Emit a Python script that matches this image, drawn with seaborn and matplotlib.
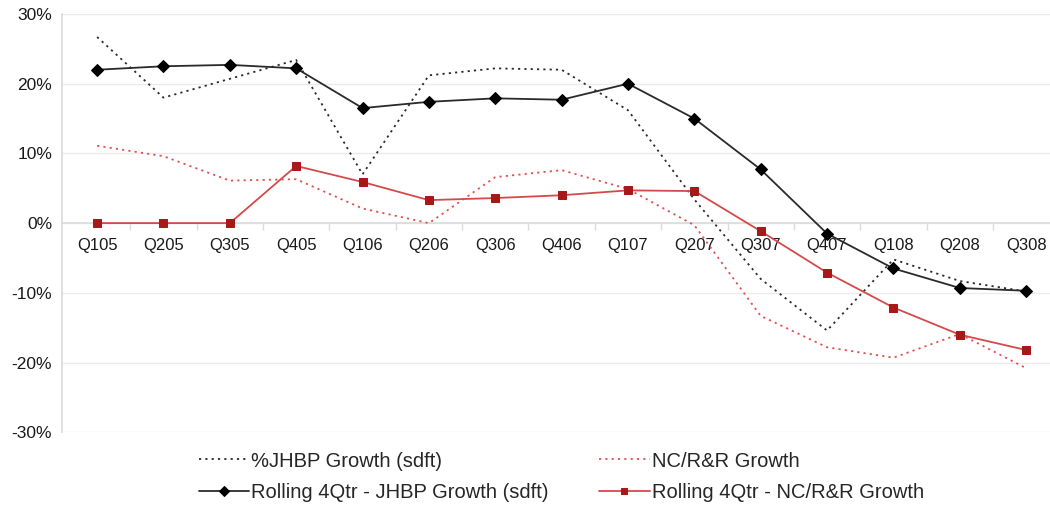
import matplotlib
matplotlib.use("Agg")
import matplotlib.pyplot as plt
from matplotlib.ticker import FuncFormatter, FixedLocator
import seaborn as sns
import pandas as pd
import numpy as np

quarters = ["Q105", "Q205", "Q305", "Q405", "Q106", "Q206", "Q306", "Q406",
            "Q107", "Q207", "Q307", "Q407", "Q108", "Q208", "Q308"]

jhbp_growth = [26.7, 18.0, 20.7, 23.4, 7.0, 21.2, 22.2, 22.0,
               16.2, 3.4, -8.0, -15.4, -5.2, -8.3, -9.8]
ncrr_growth = [11.1, 9.6, 6.1, 6.3, 2.1, 0.0, 6.6, 7.6,
               4.9, -0.3, -13.3, -17.8, -19.3, -15.9, -20.8]
rolling_jhbp = [22.0, 22.5, 22.7, 22.2, 16.5, 17.4, 17.9, 17.7,
                20.0, 15.0, 7.7, -1.5, -6.5, -9.3, -9.7]
rolling_ncrr = [0.0, 0.0, 0.0, 8.2, 5.9, 3.3, 3.6, 4.0,
                4.7, 4.6, -1.15, -7.1, -12.1, -16.0, -18.2]

labels = ["%JHBP Growth (sdft)", "NC/R&R Growth",
          "Rolling 4Qtr - JHBP Growth (sdft)", "Rolling 4Qtr - NC/R&R Growth"]

sns.set_theme(style="white")
plt.rcParams["font.family"] = ["Liberation Sans", "DejaVu Sans"]

fig = plt.figure(figsize=(10.5, 5.08), dpi=100)
ax = fig.add_axes([0.059, 0.149, 0.941, 0.8235])

x = np.arange(len(quarters))
df = pd.DataFrame({"pos": x, "jhbp": jhbp_growth, "ncrr": ncrr_growth,
                   "rjhbp": rolling_jhbp, "rncrr": rolling_ncrr})

dots = (0, (1.2, 2.3))
sns.lineplot(data=df, x="pos", y="jhbp", ax=ax, color="#2a2a2a", lw=1.3,
             linestyle=dots, label=labels[0], zorder=3)
sns.lineplot(data=df, x="pos", y="ncrr", ax=ax, color="#e25050", lw=1.3,
             linestyle=dots, label=labels[1], zorder=3)
sns.lineplot(data=df, x="pos", y="rjhbp", ax=ax, color="#2a2a2a", lw=1.3,
             marker="D", markersize=6.5, markerfacecolor="black",
             markeredgecolor="black", label=labels[2], zorder=4)
sns.lineplot(data=df, x="pos", y="rncrr", ax=ax, color="#d44a4a", lw=1.3,
             marker="s", markersize=6.2, markerfacecolor="#a81818",
             markeredgecolor="#a81818", label=labels[3], zorder=4)

ax.set_xlim(-0.53, 14.36)
ax.set_ylim(-30, 30)
ax.set_yticks(np.arange(-30, 31, 10))
ax.yaxis.set_major_formatter(FuncFormatter(lambda v, p: f"{int(v)}%"))
ax.grid(axis="y", color="#ebebeb", lw=1)
ax.set_axisbelow(True)
ax.set_xlabel("")
ax.set_ylabel("")

# Category axis sits on the zero line
ax.spines["bottom"].set_position(("data", 0))
ax.spines["bottom"].set_color("#dcdcdc")
ax.spines["bottom"].set_zorder(1)
ax.spines["left"].set_color("#dcdcdc")
ax.spines["right"].set_visible(False)
ax.spines["top"].set_visible(False)
ax.set_xticks(x)
ax.set_xticklabels(quarters)
ax.xaxis.set_minor_locator(FixedLocator(np.arange(0.5, len(quarters), 1)))
ax.tick_params(axis="x", which="major", length=0, pad=11, labelsize=12,
               colors="#1a1a1a")
ax.tick_params(axis="x", which="minor", length=5, color="#dcdcdc", width=1,
               direction="out", bottom=True)
ax.tick_params(axis="y", length=0, pad=7, labelsize=12.5, colors="#1a1a1a")

handles, lbls = ax.get_legend_handles_labels()
order = [0, 2, 1, 3]
ax.legend([handles[i] for i in order], [lbls[i] for i in order], ncol=2,
          frameon=False, fontsize=14.5, loc="upper left",
          bbox_to_anchor=(0.1815, 0.127), bbox_transform=fig.transFigure,
          handlelength=2.5, columnspacing=2.5, handletextpad=0.12,
          labelspacing=0.62, borderaxespad=0, markerscale=0.75)

fig.savefig("out.png", dpi=100)
